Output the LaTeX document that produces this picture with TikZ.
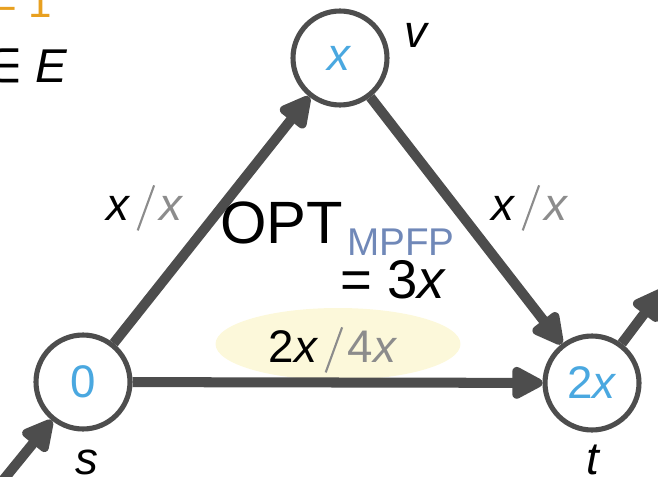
\documentclass[tikz,border=0pt]{standalone}
\usepackage{fontspec}
\usepackage{graphicx}
\setmainfont{Liberation Sans}
\newfontfamily\symfont{DejaVu Sans}
\usetikzlibrary{arrows.meta,shapes.geometric}

\definecolor{edgegray}{HTML}{4D4D4D}
\definecolor{valblue}{HTML}{4AA8E0}
\definecolor{capgray}{HTML}{8C8C8C}
\definecolor{hlyellow}{HTML}{FCF8DA}
\definecolor{optblue}{HTML}{7088B8}
\definecolor{eqorange}{HTML}{E8A020}

\newcommand{\vx}{\textit{x}}
\newcommand{\capsl}{\textcolor{capgray}{\hspace{0.14em}\raisebox{-0.22em}{\rotatebox{-20}{\rule{1.2pt}{1.05em}}}\hspace{0.1em}}}

\tikzset{
    vertex/.style={circle, draw=edgegray, line width=2.9pt, fill=white,
        minimum size=1.88cm, inner sep=0pt, text=valblue,
        font=\fontsize{26}{26}\selectfont},
    flow/.style={draw=edgegray, line width=5.7pt,
        -{Triangle[length=0.72cm,width=0.7cm,round]}},
    vlabel/.style={font=\fontsize{26}{26}\selectfont\itshape, inner sep=0pt},
    ratio/.style={font=\fontsize{26}{26}\selectfont, inner sep=0pt, anchor=base},
}

\begin{document}
\begin{tikzpicture}[x=0.02cm,y=-0.02cm]

            \useasboundingbox (0,0) rectangle (658,476);

            % text cut at the corner
            \node[anchor=base west, inner sep=0pt, text=eqorange,
                font=\fontsize{24}{24}\selectfont] (eq) at (-8,18) {= 1};
            \node[anchor=base west, inner sep=0pt,
                font=\fontsize{27}{27}\selectfont] (inE) at (-19,83)
                {{\symfont ∈} \textit{E}};

            % highlight under s-t
            \node[ellipse, fill=hlyellow, minimum width=4.9cm,
                minimum height=1.44cm] (hl) at (338,344) {};

            % vertices
            \node[vertex] (s) at (83,382) {0};
            \node[vertex] (v) at (340,58) {\vx};
            \node[vertex] (t) at (592,383) {2\vx};

            \node[vlabel] (sname) at (87,462) {s};
            \node[vlabel] (vname) at (416,35) {v};
            \node[vlabel] (tname) at (593,460) {t};

            % edges
            \coordinate (sin) at (0,484);
            \coordinate (tout) at (662,290);

            \draw[flow] (sin) -- (s);
            \draw[flow] (s) -- (v);
            \draw[flow] (v) -- (t);
            \draw[flow] (s) -- (t);
            \draw[flow] (t) -- (tout);

            % flow / capacity
            \node[ratio] (lsv) at (145,220) {\vx\capsl\textcolor{capgray}{\vx}};
            \node[ratio] (lvt) at (530,220) {\vx\capsl\textcolor{capgray}{\vx}};
            \node[ratio] (lst) at (333,362) {2\vx\capsl\textcolor{capgray}{4\vx}};

            % optimum
            \node[anchor=base west, inner sep=0pt,
                font=\fontsize{34}{34}\selectfont] (opt) at (220,243) {OPT};
            \node[anchor=base west, inner sep=0pt, text=optblue,
                font=\fontsize{22}{22}\selectfont] (mpfp) at (347,255) {MPFP};
            \node[anchor=base west, inner sep=0pt,
                font=\fontsize{31}{31}\selectfont] (val) at (340,298) {= 3\vx};

\end{tikzpicture}
\end{document}
